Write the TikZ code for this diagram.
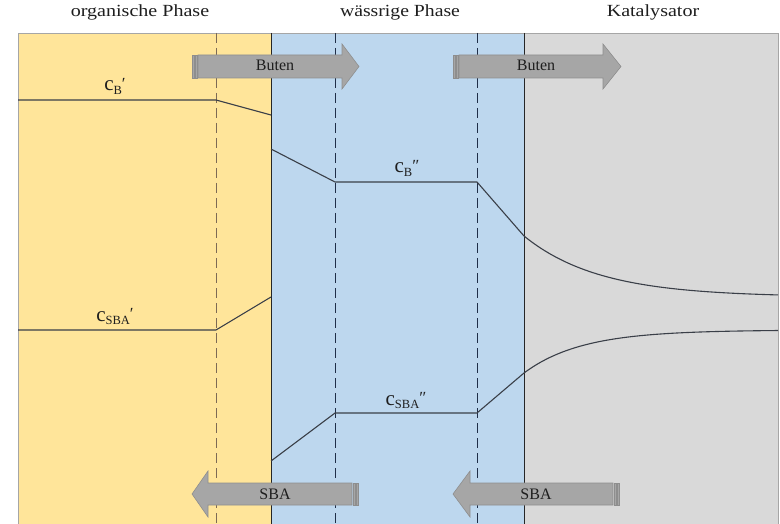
\documentclass[tikz,border=0pt]{standalone}
\usepackage{fontspec}
\setmainfont{Liberation Serif}
\definecolor{orgfill}{HTML}{FFE59A}
\definecolor{aqfill}{HTML}{BDD7EE}
\definecolor{katfill}{HTML}{D9D9D9}
\definecolor{arrfill}{HTML}{A6A6A6}
\definecolor{arrdraw}{HTML}{8E8E8E}
\definecolor{txt}{HTML}{1E1E1E}
\definecolor{orgdash}{HTML}{7D6A55}
\definecolor{aqdash}{HTML}{1F2E48}
\definecolor{curve}{HTML}{3A3F48}
\newcommand{\subtx}[1]{\raisebox{-3.5pt}{\fontsize{12.5}{13}\selectfont #1}}
\newcommand{\primetx}[1]{\raisebox{1.5pt}{\fontsize{17}{18}\selectfont #1}}
\begin{document}
\begin{tikzpicture}[x=1pt,y=-1pt,
  headlabel/.style={text=txt,font=\fontsize{17}{19}\selectfont,anchor=base,inner sep=0pt},
  conclabel/.style={text=txt,font=\fontsize{21}{22}\selectfont,anchor=base,inner sep=0pt},
  arrlabel/.style={text=txt,font=\fontsize{16}{18}\selectfont,anchor=base,inner sep=0pt},
  flowarrow/.style={fill=arrfill,draw=arrdraw,line width=0.6pt},
  stripe/.style={fill=arrfill,draw=arrdraw,line width=0.4pt},
  orgdashed/.style={draw=orgdash,line width=1pt,dash pattern=on 10pt off 5pt},
  aqdashed/.style={draw=aqdash,line width=1pt,dash pattern=on 10pt off 5pt},
  boundary/.style={draw=black!85,line width=1pt},
  conc/.style={draw=curve,line width=1.1pt,line join=round}]
\useasboundingbox (0,0) rectangle (780,524);
\fill[white] (0,0) rectangle (780,524);
% phases
\fill[orgfill] (18,33) rectangle (271,524);
\fill[aqfill] (271,33) rectangle (524,524);
\fill[katfill] (524,33) rectangle (778,524);
\draw[gray!70,line width=0.8pt] (18,524) -- (18,33) -- (778,33) -- (778,524);
% film boundaries
\draw[orgdashed] (216,33) -- (216,524);
\draw[aqdashed] (335,33) -- (335,524);
\draw[aqdashed] (477,33) -- (477,524);
\draw[boundary] (271,33) -- (271,524);
\draw[boundary] (524,33) -- (524,524);
% headings
\node[headlabel] (org) at (140,17) {\scalebox{1.18}[1]{organische Phase}};
\node[headlabel] (aq) at (400,17) {\scalebox{1.16}[1]{wässrige Phase}};
\node[headlabel] (kat) at (653,17) {\scalebox{1.18}[1]{Katalysator}};
% concentration profiles: Buten
\draw[conc] (18,100) -- (216,100) -- (271,115);
\draw[conc] (271,149) -- (335,182) -- (477,182) -- (524,236);
\draw[conc] plot[domain=524:778,samples=60] (\x,{297-61*exp(-(\x-524)/75)});
% concentration profiles: SBA
\draw[conc] (18,330) -- (216,330) -- (271,297);
\draw[conc] (271,461) -- (335,413) -- (477,413) -- (524,373);
\draw[conc] plot[domain=524:778,samples=60] (\x,{330+43*exp(-(\x-524)/57.5)});
% concentration labels
\node[conclabel] (cb1) at (115,91) {c\subtx{B}\primetx{′}};
\node[conclabel] (cb2) at (407,173) {c\subtx{B}\primetx{″}};
\node[conclabel] (cs1) at (115,321) {c\subtx{SBA}\primetx{′}};
\node[conclabel] (cs2) at (406,405) {c\subtx{SBA}\primetx{″}};
% Buten arrows
\filldraw[stripe] (192,55) rectangle (194,78);
\filldraw[stripe] (195,55) rectangle (197,78);
\filldraw[flowarrow] (198,55) -- (342,55) -- (342,44) -- (359,66.5) -- (342,89) -- (342,78) -- (198,78) -- cycle;
\node[arrlabel] (bt1) at (275,71) {Buten};
\filldraw[stripe] (453,55) rectangle (455,78);
\filldraw[stripe] (456,55) rectangle (458,78);
\filldraw[flowarrow] (459,55) -- (603,55) -- (603,44) -- (621,66.5) -- (603,89) -- (603,78) -- (459,78) -- cycle;
\node[arrlabel] (bt2) at (536,71) {Buten};
% SBA arrows
\filldraw[flowarrow] (192,494) -- (208,471) -- (208,483) -- (352,483) -- (352,505) -- (208,505) -- (208,517) -- cycle;
\filldraw[stripe] (353,483) rectangle (355,505);
\filldraw[stripe] (356,483) rectangle (358,505);
\node[arrlabel] (sb1) at (275,499) {SBA};
\filldraw[flowarrow] (453,494) -- (470,471) -- (470,483) -- (613,483) -- (613,505) -- (470,505) -- (470,517) -- cycle;
\filldraw[stripe] (614,483) rectangle (616,505);
\filldraw[stripe] (617,483) rectangle (619,505);
\node[arrlabel] (sb2) at (536,499) {SBA};
\end{tikzpicture}
\end{document}
